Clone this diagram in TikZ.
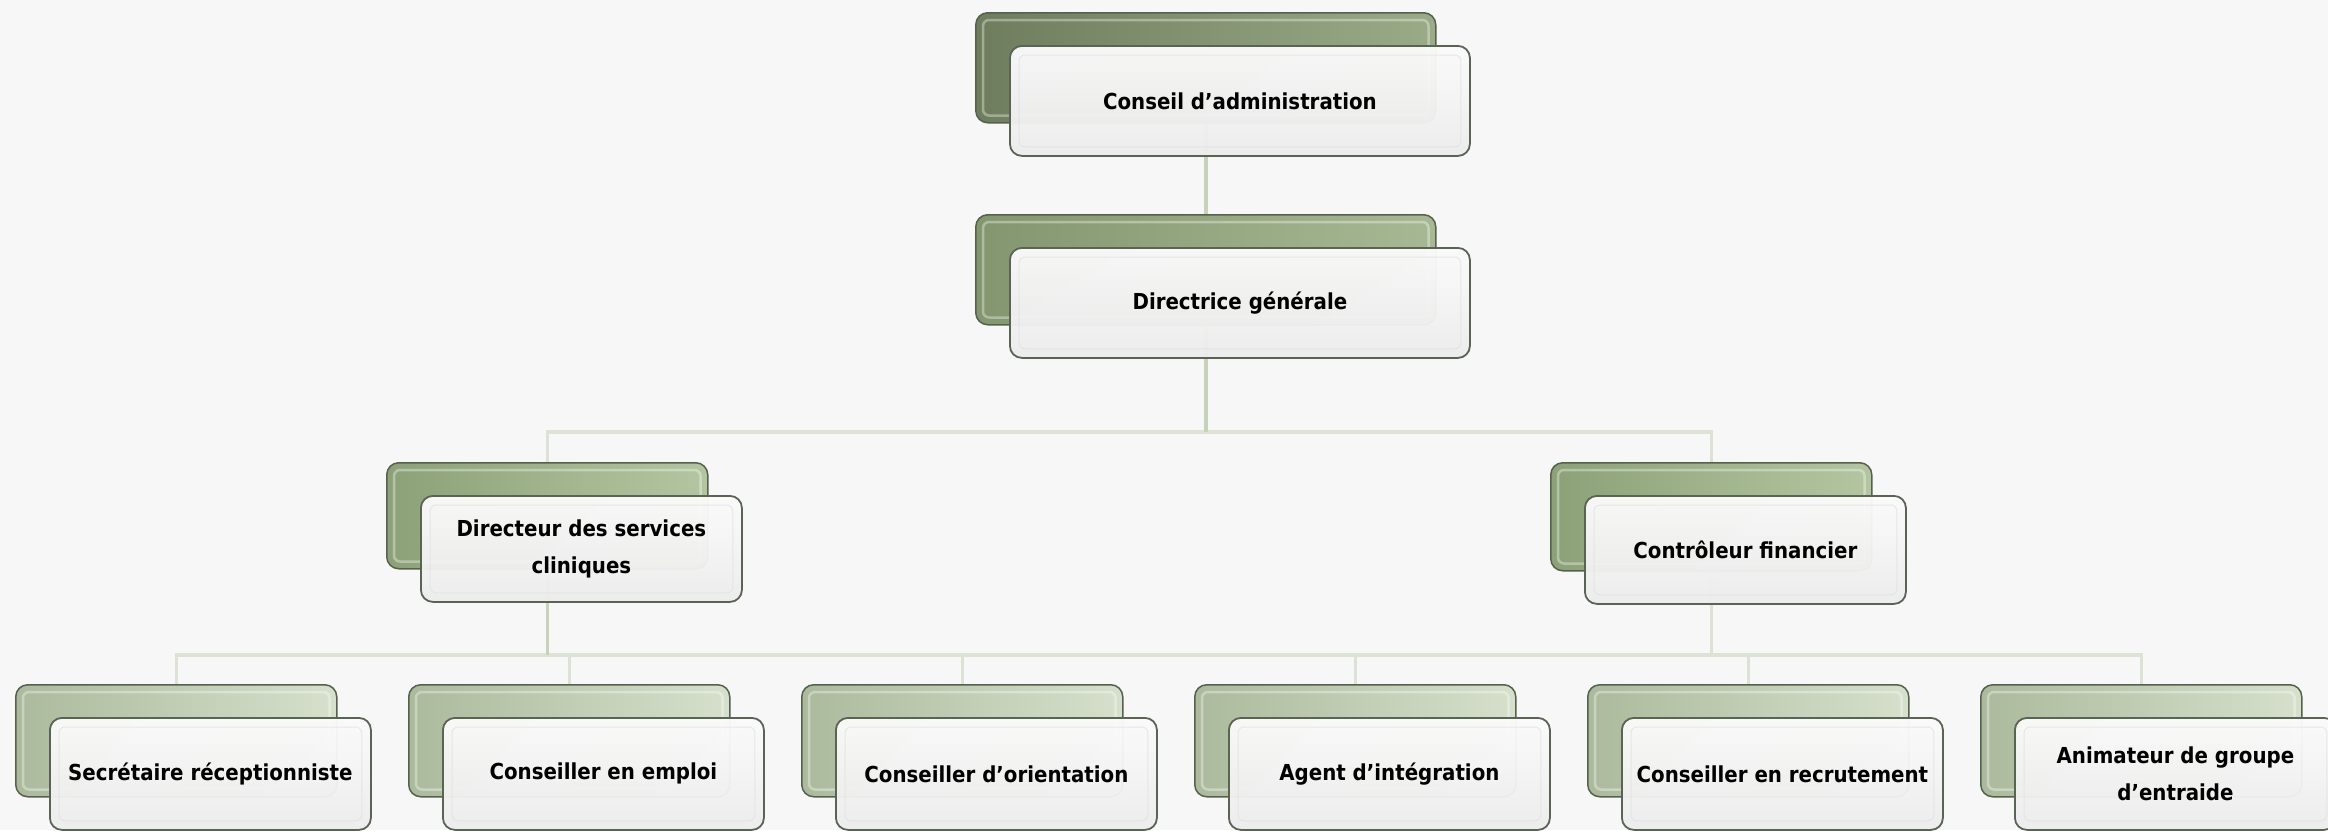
\documentclass[tikz,border=0pt]{standalone}
\usepackage{fontspec}
\newfontfamily\boxfont{DejaVu Sans}[FakeStretch=0.9]
\usetikzlibrary{backgrounds,calc}
\definecolor{bg}{HTML}{F7F7F7}
\definecolor{edgeback}{HTML}{56614D}
\definecolor{edgefront}{HTML}{5A6455}
\definecolor{frontbot}{HTML}{ECECEC}
\definecolor{fronttop}{HTML}{FBFBFB}
\definecolor{linkc}{HTML}{DCE3D5}
\definecolor{linktopc}{HTML}{C6D3BA}
\definecolor{lzA}{HTML}{6E7D5D}\definecolor{rzA}{HTML}{9AAB88}
\definecolor{lzB}{HTML}{83966F}\definecolor{rzB}{HTML}{A7B994}
\definecolor{lzC}{HTML}{8DA178}\definecolor{rzC}{HTML}{B3C6A1}
\definecolor{lzD}{HTML}{ABBA9C}\definecolor{rzD}{HTML}{D6E0CC}
\tikzset{
  backbox/.style={draw=edgeback, line width=1.5pt, rounded corners=12pt,
    inner sep=0pt, anchor=north west},
  backbevel/.style={draw=white, draw opacity=0.35, line width=2.5pt, rounded corners=6pt},
  frontbox/.style={draw=edgefront, line width=1.8pt, rounded corners=12pt,
    top color=fronttop, middle color=white, bottom color=frontbot,
    fill opacity=0.96, text opacity=1, anchor=north west, inner sep=0pt,
    align=center, font=\boxfont\bfseries\fontsize{22}{37}\selectfont},
  frontbevel/.style={draw=black!12, draw opacity=0.7, line width=1pt, rounded corners=6pt},
  link/.style={draw=linkc, line width=3.5pt},
  linkstem/.style={draw=linktopc, line width=3.5pt},
}
% name, x, y, w, h, leftcol, rightcol, text
\newcommand\orgunit[8]{%
  \node[backbox, minimum width=#4pt, minimum height=#5pt, left color=#6, right color=#7] (#1b) at (#2,#3) {};
  \draw[backbevel] ($(#1b.north west)+(8,8)$) rectangle ($(#1b.south east)+(-8,-8)$);
  \node[frontbox, minimum width=#4pt, minimum height=#5pt] (#1) at ($(#2,#3)+(34,33)$) {#8};
  \draw[frontbevel] ($(#1.north west)+(10,10)$) rectangle ($(#1.south east)+(-10,-10)$);
}
\begin{document}
\begin{tikzpicture}[x=1pt,y=-1pt]
\useasboundingbox (0,0) rectangle (2328,830);
\coordinate (busA) at (0,432);
\coordinate (busB) at (0,655);

\orgunit{ca}{975}{12}{460}{110}{lzA}{rzA}{Conseil d’administration}
\orgunit{dg}{975}{214}{460}{110}{lzB}{rzB}{Directrice générale}
\orgunit{dsc}{386}{462}{321}{106}{lzC}{rzC}{Directeur des services\\cliniques}
\orgunit{cf}{1550}{462}{321}{108}{lzC}{rzC}{Contrôleur financier}
\orgunit{sr}{15}{684}{321}{112}{lzD}{rzD}{Secrétaire réceptionniste}
\orgunit{ce}{408}{684}{321}{112}{lzD}{rzD}{Conseiller en emploi}
\orgunit{co}{801}{684}{321}{112}{lzD}{rzD}{Conseiller d’orientation}
\orgunit{ai}{1194}{684}{321}{112}{lzD}{rzD}{Agent d’intégration}
\orgunit{cr}{1587}{684}{321}{112}{lzD}{rzD}{Conseiller en recrutement}
\orgunit{ag}{1980}{684}{321}{112}{lzD}{rzD}{Animateur de groupe\\d’entraide}

\begin{pgfonlayer}{background}
  \fill[bg] (0,0) rectangle (2328,830);
  \draw[linkstem] (cab.south) -- (dgb.north);
  \draw[link] (dgb.south) -- (dgb.south |- busA) -| (dscb.north);
  \draw[link] (dgb.south) -- (dgb.south |- busA) -| (cfb.north);
  \foreach \c in {sr,ce,co,ai,cr}{
    \draw[link] (dscb.south) -- (dscb.south |- busB) -| (\c b.north);
  }
  \draw[link] (cfb.south) -- (cfb.south |- busB) -| (agb.north);
  \draw[linkstem] (dgb.south) -- (dgb.south |- busA);
  \draw[linkstem] (dscb.south) -- (dscb.south |- busB);
\end{pgfonlayer}
\end{tikzpicture}
\end{document}
